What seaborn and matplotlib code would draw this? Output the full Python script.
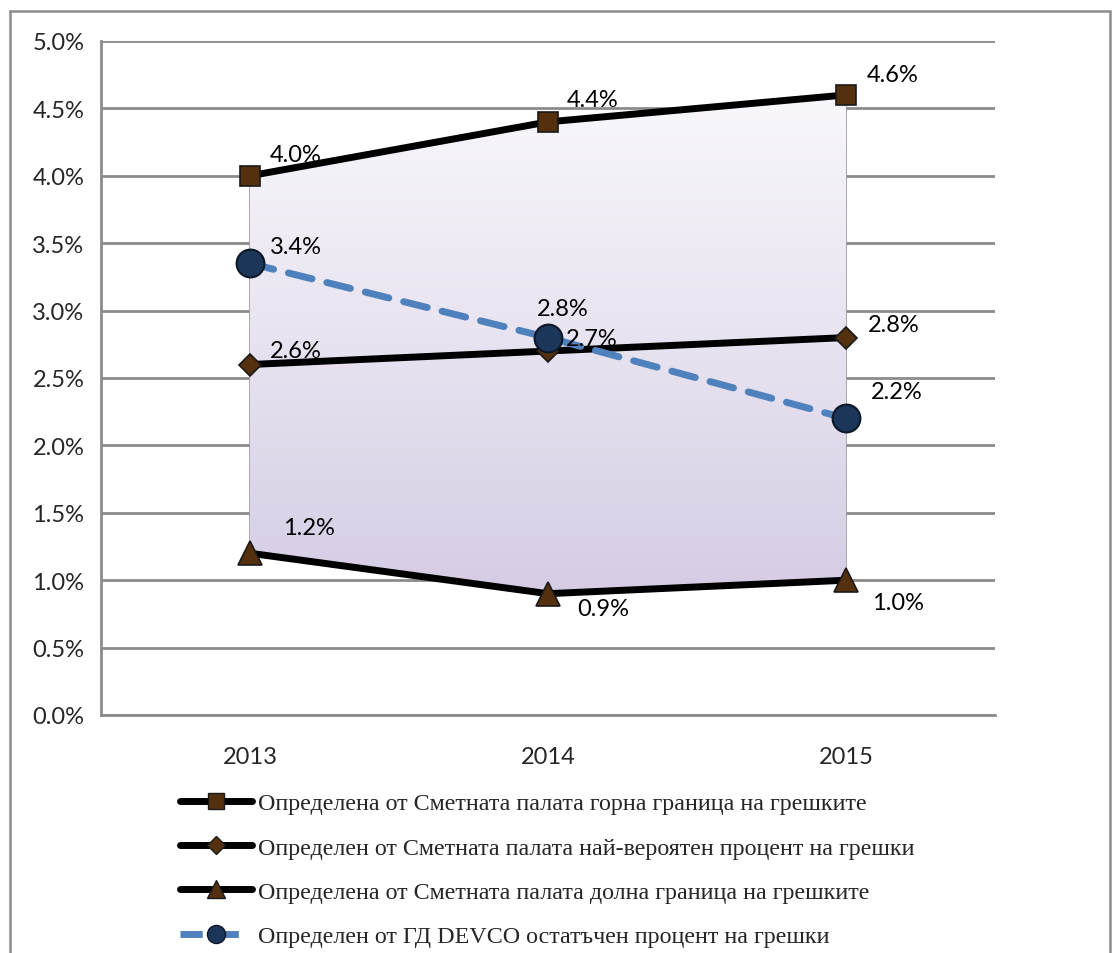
import numpy as np
import pandas as pd
import matplotlib
matplotlib.use("Agg")
import matplotlib.pyplot as plt
import seaborn as sns
from matplotlib.lines import Line2D
from matplotlib.patches import Rectangle

# Years on the category axis
years = ["2013", "2014", "2015"]

# Error rates in percent
upper_limit = [4.0, 4.4, 4.6]
most_likely = [2.6, 2.7, 2.8]
lower_limit = [1.2, 0.9, 1.0]
devco_residual = [3.35, 2.8, 2.2]

y_ticks = [0.0, 0.5, 1.0, 1.5, 2.0, 2.5, 3.0, 3.5, 4.0, 4.5, 5.0]

series_names = [
    "Определена от Сметната палата горна граница на грешките",
    "Определен от Сметната палата най-вероятен процент на грешки",
    "Определена от Сметната палата долна граница на грешките",
    "Определен от ГД DEVCO остатъчен процент на грешки",
]

sns.set_theme(style="white")
plt.rcParams["font.family"] = ["Lato", "DejaVu Sans"]

fig = plt.figure(figsize=(11.2, 9.54), dpi=100)
ax = fig.add_axes([101 / 1120, 1 - 716 / 954, 894 / 1120, 674 / 954])

x = np.arange(len(years))
df = pd.DataFrame({
    "x": np.tile(x, 4),
    "rate": upper_limit + most_likely + lower_limit + devco_residual,
    "series": np.repeat(series_names, 3),
})

grid_col = "#8c8c8c"
for t in y_ticks:
    ax.axhline(t, color=grid_col, lw=2.0, zorder=0)

# Shaded band between lower and upper limits with a vertical gradient
band = ax.fill_between(x, lower_limit, upper_limit, facecolor="none",
                       edgecolor="#9d97a8", lw=1.2, zorder=1)
grad = np.linspace(0, 1, 256).reshape(-1, 1)
cmap = matplotlib.colors.LinearSegmentedColormap.from_list(
    "lav", ["#d5cce4", "#e8e3f0", "#f9f8fc"])
img = ax.imshow(grad, extent=[0, 2, 0.85, 4.65], origin="lower", cmap=cmap,
                aspect="auto", zorder=1, interpolation="bicubic")
path = band.get_paths()[0]
img.set_clip_path(path, transform=ax.transData)

brown = "#55300f"
navy = "#1c3659"
line_specs = [
    (upper_limit, "s", 15, brown),
    (most_likely, "D", 11, brown),
    (lower_limit, "^", 17, brown),
]
for (vals, mk, ms, fc), name in zip(line_specs, series_names[:3]):
    sub = df[df["series"] == name]
    sns.lineplot(data=sub, x="x", y="rate", ax=ax, color="black", lw=5,
                 marker=mk, markersize=ms, markerfacecolor=fc,
                 markeredgecolor="#1a1a1a", markeredgewidth=1.2,
                 legend=False, zorder=4, solid_capstyle="butt")

sub = df[df["series"] == series_names[3]]
sns.lineplot(data=sub, x="x", y="rate", ax=ax, color="#4f81bd", lw=5,
             dashes=False, legend=False, zorder=5)
ax.lines[-1].set_dashes([3.5, 2.2])
ax.lines[-1].set_dash_capstyle("round")
ax.plot(x, devco_residual, ls="none", marker="o", markersize=20,
        markerfacecolor=navy, markeredgecolor="#0c1828", markeredgewidth=1.5,
        zorder=6)

# Value labels (pixel offsets from each point)
label_offsets = {
    0: [(46, 21), (45, 22), (47, 20)],
    1: [(46, 14), (44, 13), (48, 13)],
    2: [(59, 26), (55, -15), (52, -22)],
    3: [(46, 17), (15, 29), (51, 27)],
}
all_series = [upper_limit, most_likely, lower_limit, devco_residual]
for si, vals in enumerate(all_series):
    for xi, v in enumerate(vals):
        dx, dy = label_offsets[si][xi]
        ax.annotate(f"{v:.1f}%", (xi, v), xytext=(dx, dy),
                    textcoords="offset pixels", ha="center", va="center",
                    fontsize=17, color="black", zorder=7)

ax.set_xlim(-0.5, 2.5)
ax.set_ylim(0, 5.0)
ax.set_yticks(y_ticks)
ax.set_yticklabels([f"{t:.1f}%" for t in y_ticks], fontsize=17)
ax.set_xticks(x)
ax.set_xticklabels(years, fontsize=17)
ax.set_xticks([-0.5, 0.5, 1.5, 2.5], minor=True)
ax.tick_params(axis="x", which="major", length=0, pad=22)
ax.tick_params(axis="x", which="minor", length=8, width=2, color=grid_col,
               direction="out")
ax.tick_params(axis="y", length=8, width=2, color=grid_col, direction="out",
               pad=4)
ax.set_xlabel("")
ax.set_ylabel("")
for s in ["top", "right"]:
    ax.spines[s].set_visible(False)
for s in ["left", "bottom"]:
    ax.spines[s].set_color(grid_col)
    ax.spines[s].set_linewidth(2)

# Legend below the plot
handles = [
    Line2D([], [], color="black", lw=5, marker="s", markersize=12,
           markerfacecolor=brown, markeredgecolor="#1a1a1a"),
    Line2D([], [], color="black", lw=5, marker="D", markersize=9,
           markerfacecolor=brown, markeredgecolor="#1a1a1a"),
    Line2D([], [], color="black", lw=5, marker="^", markersize=13,
           markerfacecolor=brown, markeredgecolor="#1a1a1a"),
    Line2D([], [], color="#4f81bd", lw=5, ls=(0, (3.2, 2.0)), marker="o",
           markersize=13, markerfacecolor=navy, markeredgecolor="#0c1828"),
]
fig.legend(handles, series_names, loc="upper left",
           bbox_to_anchor=(170 / 1120, 1 - 784 / 954), frameon=False,
           prop={"family": "Liberation Serif", "size": 17.3},
           handlelength=3.0, handletextpad=0.25, labelspacing=0.93,
           borderaxespad=0)

# Outer chart frame
fig.patches.append(Rectangle((10 / 1120, -0.05), 1100 / 1120, 1 - 12 / 954 + 0.05,
                             transform=fig.transFigure, fill=False,
                             edgecolor="#8c8c8c", lw=1.8))

fig.savefig("out.png", dpi=100)
